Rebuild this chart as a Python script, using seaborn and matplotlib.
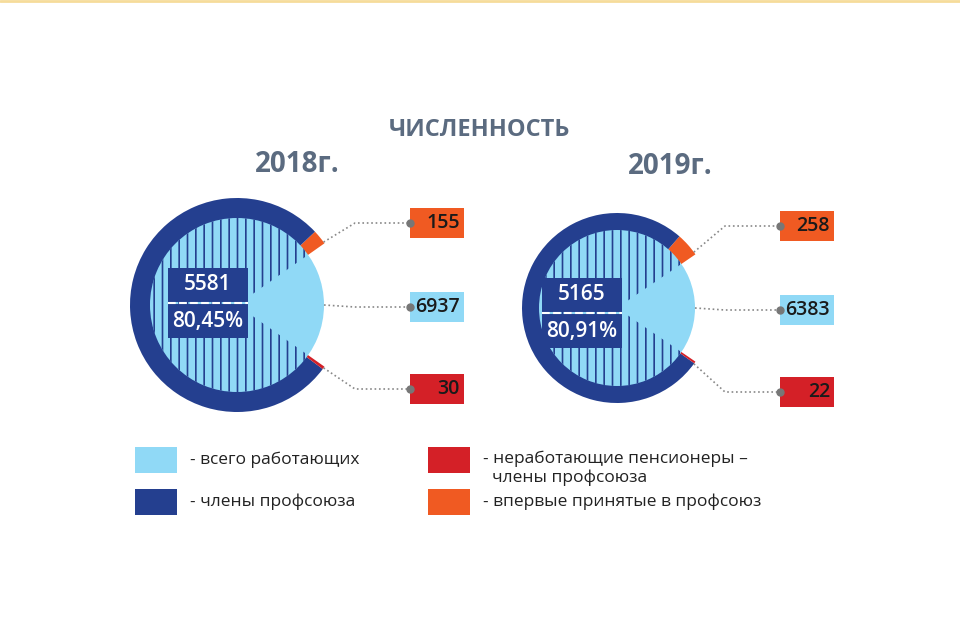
import math
import matplotlib.pyplot as plt
import seaborn as sns
from matplotlib.patches import Rectangle

years = ["2018г.", "2019г."]
total = [6937, 6383]
members = [5581, 5165]
pct_labels = ["80,45%", "80,91%"]
pct = [80.45, 80.91]
new_members = [155, 258]
pensioners = [30, 22]

DARK = "#243f8f"
LIGHT = "#90d9f6"
ORANGE = "#f05a22"
RED = "#d42027"
GRAY = "#5b6b80"

sns.set_theme(style="white", font="Open Sans")
plt.rcParams["hatch.linewidth"] = 1.2

fig = plt.figure(figsize=(9.6, 6.4), dpi=100)
ax = fig.add_axes([0, 0, 1, 1])
ax.set_aspect("equal")
ax.axis("off")

H = 640
ax.plot([0, 960], [H - 1, H - 1], color="#f6dc9a", lw=2)

ax.text(480, H - 130, "ЧИСЛЕННОСТЬ", ha="center", va="center",
        fontsize=17, fontweight="bold", color=GRAY)

layout = [
    dict(c=(237, 305), ro=107, ri=87, year=(297, 165), box_x=410, lab=(208, 300)),
    dict(c=(617, 308), ro=95, ri=78, year=(670, 167), box_x=780, lab=(582, 310)),
]

for i, L in enumerate(layout):
    cx, cy = L["c"][0], H - L["c"][1]
    frac = pct[i] / 100
    gap = 1 - frac
    red_f = pensioners[i] / total[i]
    orange_f = new_members[i] / total[i]
    blue_f = frac - red_f - orange_f
    start = gap * 180
    ax.pie([orange_f, blue_f, red_f, gap], colors=[ORANGE, DARK, RED, "none"],
           startangle=start, counterclock=True, center=(cx, cy), radius=L["ro"],
           wedgeprops=dict(linewidth=0), frame=True)
    ax.pie([1], colors=[LIGHT], center=(cx, cy), radius=L["ri"],
           wedgeprops=dict(linewidth=0), frame=True)
    ax.pie([frac, gap], colors=["none", "none"], startangle=start, center=(cx, cy),
           radius=L["ri"], hatch=["||", ""],
           wedgeprops=dict(linewidth=0, edgecolor=DARK), frame=True)

    ax.text(L["year"][0], H - L["year"][1], years[i], ha="center", va="center",
            fontsize=20, fontweight="bold", color=GRAY)

    bx = L["box_x"]
    rows = [(new_members[i], ORANGE, L["c"][1] - 82, 36),
            (total[i], LIGHT, L["c"][1] + 2, 0),
            (pensioners[i], RED, L["c"][1] + 84, -36)]
    for val, col, by, ang in rows:
        a = math.radians(ang)
        r0 = L["ro"] if ang else L["ri"]
        px, py = cx + r0 * math.cos(a), cy + r0 * math.sin(a)
        knee = bx - 55
        ax.plot([px, knee, bx], [py, H - by, H - by], ls=":", color="#888888", lw=1.2)
        ax.add_patch(Rectangle((bx, H - by - 15), 54, 30, color=col, lw=0))
        ax.plot(bx, H - by, "o", color="#777777", ms=5)
        ax.text(bx + 50, H - by, str(val), ha="right", va="center",
                fontsize=14, fontweight="semibold", color="#1a1a1a")

    lx, ly = L["lab"]
    ax.add_patch(Rectangle((lx - 40, H - ly - 2), 80, 34, color=DARK, lw=0))
    ax.add_patch(Rectangle((lx - 40, H - ly - 38), 80, 34, color=DARK, lw=0))
    ax.plot([lx - 40, lx + 40], [H - ly - 3, H - ly - 3], ls="--", color="white", lw=1.5)
    ax.text(lx, H - ly + 15, str(members[i]), ha="center", va="center",
            fontsize=15, fontweight="semibold", color="white")
    ax.text(lx, H - ly - 21, pct_labels[i], ha="center", va="center",
            fontsize=15, fontweight="semibold", color="white")

legend = [(135, 460, LIGHT, "- всего работающих"),
          (135, 502, DARK, "- члены профсоюза"),
          (428, 460, RED, "- неработающие пенсионеры –\n  члены профсоюза"),
          (428, 502, ORANGE, "- впервые принятые в профсоюз")]
for x, y, col, txt in legend:
    ax.add_patch(Rectangle((x, H - y - 13), 42, 26, color=col, lw=0))
    ty = y + 8 if "\n" in txt else y
    ax.text(x + 55, H - ty, txt, ha="left", va="center", fontsize=12.5,
            color="#222222", linespacing=1.2)

ax.set_xlim(0, 960)
ax.set_ylim(0, 640)
fig.savefig("out.png", dpi=100)
